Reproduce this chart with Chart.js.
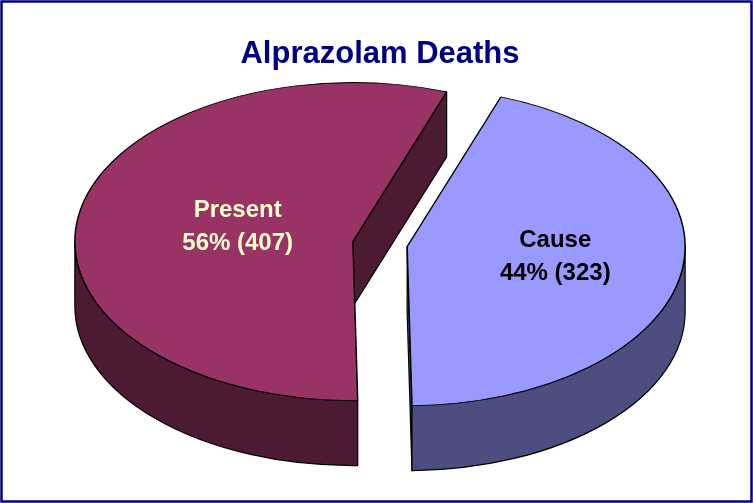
<!DOCTYPE html>
<html>
<head>
<meta charset="utf-8">
<script src="https://cdn.jsdelivr.net/npm/chart.js@4/dist/chart.umd.min.js"></script>
<style>
  body { margin: 0; background: #fff; }
  canvas { display: block; }
</style>
</head>
<body>
<canvas id="canvas-chart" width="753" height="503"></canvas>
<script>
'use strict'

const categories = ["Present", "Cause"];
const deaths = [407, 323];

const topColors = ["#993366", "#9999FF"];
const sideColors = ["#4D1A33", "#4D4D80"];
const labelColors = ["#FFFFCC", "#000000"];

// 3d look: squash factor, extrusion depth, explode distance
const tilt = 0.572;
const depth = 65;
const explode = 27.5;
const labelRadius = [0.42, 0.54];

let pie3d = {
    id: "pie3d",
    afterDatasetsUpdate(chart) {
        let arcs = chart.getDatasetMeta(0).data;
        chart.$cy = arcs[0].y;
        arcs.forEach(function (arc) {
            let mid = (arc.startAngle + arc.endAngle) / 2;
            arc.x += Math.cos(mid) * explode;
            arc.y += Math.sin(mid) * explode;
        });
    },
    beforeDatasetsDraw(chart) {
        let ctx = chart.ctx;
        let cy = chart.$cy;
        let arcs = chart.getDatasetMeta(0).data;
        ctx.save();
        ctx.lineWidth = 1.2;
        ctx.strokeStyle = "#000";
        ctx.lineJoin = "round";
        arcs.forEach(function (arc, i) {
            let X = arc.x;
            let Y = cy + tilt * (arc.y - cy);
            let R = arc.outerRadius;
            let rY = R * tilt;
            ctx.fillStyle = sideColors[i];

            // cut faces
            [[arc.startAngle, -1], [arc.endAngle, 1]].forEach(function (b) {
                let a = b[0];
                if (b[1] * Math.cos(a) <= 0.001) return;
                let ex = X + R * Math.cos(a);
                let ey = Y + rY * Math.sin(a);
                ctx.beginPath();
                ctx.moveTo(X, Y);
                ctx.lineTo(ex, ey);
                ctx.lineTo(ex, ey + depth);
                ctx.lineTo(X, Y + depth);
                ctx.closePath();
                ctx.fill();
                ctx.stroke();
            });

            // outer wall, front half only
            for (let n = -1; n <= 2; n++) {
                let a0 = Math.max(arc.startAngle, 2 * Math.PI * n);
                let a1 = Math.min(arc.endAngle, 2 * Math.PI * n + Math.PI);
                if (a1 <= a0) continue;
                ctx.beginPath();
                ctx.ellipse(X, Y, R, rY, 0, a0, a1, false);
                ctx.ellipse(X, Y + depth, R, rY, 0, a1, a0, true);
                ctx.closePath();
                ctx.fill();
                ctx.stroke();
            }
        });
        ctx.restore();

        ctx.save();
        ctx.translate(0, cy);
        ctx.scale(1, tilt);
        ctx.translate(0, -cy);
    },
    afterDatasetsDraw(chart) {
        let ctx = chart.ctx;
        ctx.restore();

        let cy = chart.$cy;
        let arcs = chart.getDatasetMeta(0).data;
        let total = deaths.reduce(function (s, v) { return s + v; }, 0);
        ctx.save();
        ctx.font = "bold 24px 'Liberation Sans', Arial, sans-serif";
        ctx.textAlign = "center";
        ctx.textBaseline = "alphabetic";
        arcs.forEach(function (arc, i) {
            let mid = (arc.startAngle + arc.endAngle) / 2;
            let f = labelRadius[i];
            let lx = arc.x + f * arc.outerRadius * Math.cos(mid);
            let ly = cy + tilt * (arc.y - cy) + f * tilt * arc.outerRadius * Math.sin(mid);
            let pct = Math.round(deaths[i] / total * 100);
            ctx.fillStyle = labelColors[i];
            ctx.fillText(categories[i], lx, ly - 14);
            ctx.fillText(pct + "% (" + deaths[i] + ")", lx, ly + 19);
        });
        ctx.restore();
    },
    afterDraw(chart) {
        let ctx = chart.ctx;
        ctx.save();
        ctx.strokeStyle = "#000080";
        ctx.lineWidth = 2.5;
        ctx.strokeRect(1.5, 1.5, 750, 500);
        ctx.restore();
    },
};

let chart = document.getElementById("canvas-chart").getContext("2d");

let chart1 = new Chart(chart, {
    type: "pie",
    data: {
        labels: categories,
        datasets: [
            {
                data: deaths,
                backgroundColor: topColors,
                borderColor: "#000",
                borderWidth: 1.5,
                clip: false,
            },
        ],
    },
    options: {
        responsive: false,
        animation: false,
        events: [],
        rotation: 179,
        radius: 278,
        layout: { padding: { left: 7, right: 0, top: 0, bottom: 96.5 } },
        plugins: {
            legend: { display: false },
            tooltip: { enabled: false },
            title: {
                display: true,
                text: "Alprazolam Deaths",
                color: "#000080",
                font: { family: "'Liberation Sans', Arial, sans-serif", size: 31, weight: "bold" },
                padding: { top: 35.5, bottom: 9 },
            },
        },
    },
    plugins: [pie3d],
});
</script>
</body>
</html>
